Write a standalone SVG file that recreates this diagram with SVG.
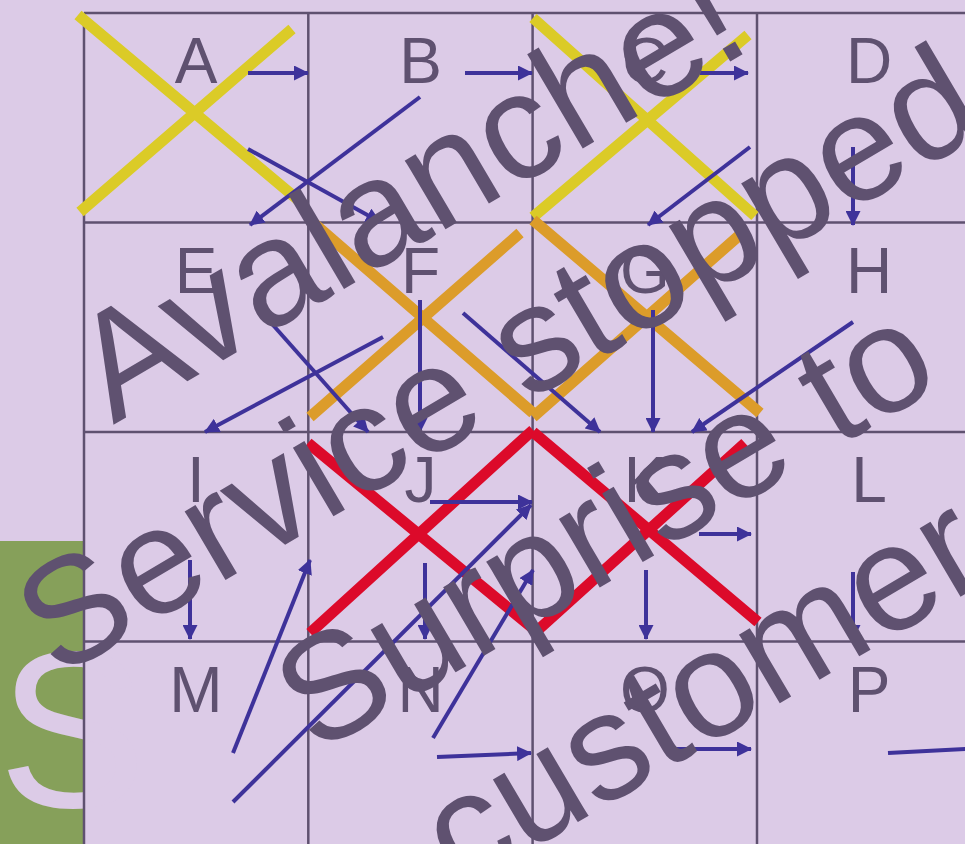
<svg xmlns="http://www.w3.org/2000/svg" width="965" height="844" viewBox="0 0 965 844">
<style>
.grid{stroke:#5f5170;stroke-width:2.5;fill:none}
.lbl{font-family:"Liberation Sans",Arial,sans-serif;font-size:64px;fill:#5f5170;text-anchor:middle}
.big{font-family:"Liberation Sans",Arial,sans-serif;font-size:151px;fill:#5f5170;text-anchor:middle}
.y{stroke:#dbcb27;stroke-width:11;fill:none}
.o{stroke:#dc9c2a;stroke-width:11;fill:none}
.r{stroke:#dc0a2a;stroke-width:11;fill:none}
.ar{stroke:#3e329a;stroke-width:4;fill:none}
.arh{stroke:#3e329a;stroke-width:4;fill:none;marker-end:url(#ah)}
</style>
<defs>
<marker id="ah" markerUnits="userSpaceOnUse" markerWidth="15" markerHeight="15" refX="14" refY="7.5" orient="auto" viewBox="0 0 15 15">
<path d="M0,0 L15,7.5 L0,15 z" fill="#3e329a"/>
</marker>
</defs>
<rect width="965" height="844" fill="#dccbe7"/>
<rect x="0" y="541" width="84" height="303" fill="#86a05a"/>
<text x="-2" y="807" font-family="Liberation Sans, Arial, sans-serif" font-size="223" fill="#dccbe7">S</text>
<g id="grid" class="grid">
<line x1="84" y1="13" x2="84" y2="844"/>
<line x1="308.3" y1="13" x2="308.3" y2="844"/>
<line x1="532.6" y1="13" x2="532.6" y2="844"/>
<line x1="757" y1="13" x2="757" y2="844"/>
<line x1="84" y1="13" x2="965" y2="13"/>
<line x1="84" y1="222.5" x2="965" y2="222.5"/>
<line x1="84" y1="432" x2="965" y2="432"/>
<line x1="84" y1="641.5" x2="965" y2="641.5"/>
</g>
<g id="nodeA"><text class="lbl" x="196" y="83">A</text></g>
<g id="nodeB"><text class="lbl" x="420.5" y="83">B</text></g>
<g id="nodeC"><text class="lbl" x="645" y="83">C</text></g>
<g id="nodeD"><text class="lbl" x="869" y="83">D</text></g>
<g id="nodeE"><text class="lbl" x="196" y="292.5">E</text></g>
<g id="nodeF"><text class="lbl" x="420.5" y="292.5">F</text></g>
<g id="nodeG"><text class="lbl" x="645" y="292.5">G</text></g>
<g id="nodeH"><text class="lbl" x="869" y="292.5">H</text></g>
<g id="nodeI"><text class="lbl" x="196" y="502">I</text></g>
<g id="nodeJ"><text class="lbl" x="420.5" y="502">J</text></g>
<g id="nodeK"><text class="lbl" x="645" y="502">K</text></g>
<g id="nodeL"><text class="lbl" x="869" y="502">L</text></g>
<g id="nodeM"><text class="lbl" x="196" y="711.5">M</text></g>
<g id="nodeN"><text class="lbl" x="420.5" y="711.5">N</text></g>
<g id="nodeO"><text class="lbl" x="645" y="711.5">O</text></g>
<g id="nodeP"><text class="lbl" x="869" y="711.5">P</text></g>
<g id="marks">
<path class="y" d="M78,15 L303,204 M292,29 L80,212"/>
<path class="y" d="M533,18 L755,216 M748,35 L533,217"/>
<path class="o" d="M310,220 L533,413 M520,233 L310,417"/>
<path class="o" d="M533,220 L760,413 M742,233 L533,417"/>
<path class="r" d="M308,443 L535,630 M533,430 L310,633"/>
<path class="r" d="M533,432 L758,622 M745,443 L538,630"/>
</g>
<g id="connectors">
<line class="arh" x1="248" y1="73" x2="308" y2="73"/>
<line class="arh" x1="465" y1="73" x2="532" y2="73"/>
<line class="arh" x1="700" y1="73" x2="748" y2="73"/>
<line class="arh" x1="420" y1="97" x2="250" y2="225"/>
<line class="arh" x1="248" y1="149" x2="380" y2="222"/>
<line class="arh" x1="750" y1="147" x2="648" y2="225"/>
<line class="arh" x1="853" y1="147" x2="853" y2="225"/>
<line class="arh" x1="257" y1="307" x2="368" y2="432"/>
<line class="arh" x1="383" y1="337" x2="205" y2="432"/>
<line class="arh" x1="420" y1="300" x2="420" y2="432"/>
<line class="arh" x1="463" y1="313" x2="600" y2="432"/>
<line class="arh" x1="653" y1="310" x2="653" y2="432"/>
<line class="arh" x1="853" y1="322" x2="692" y2="432"/>
<line class="arh" x1="190" y1="560" x2="190" y2="639"/>
<line class="arh" x1="430" y1="502" x2="532" y2="502"/>
<line class="arh" x1="233" y1="753" x2="310" y2="560"/>
<line class="arh" x1="233" y1="802" x2="531" y2="505"/>
<line class="arh" x1="425" y1="563" x2="425" y2="639"/>
<line class="arh" x1="433" y1="738" x2="533" y2="570"/>
<line class="arh" x1="699" y1="534" x2="751" y2="534"/>
<line class="arh" x1="646" y1="570" x2="646" y2="639"/>
<line class="arh" x1="853" y1="572" x2="853" y2="639"/>
<line class="arh" x1="437" y1="757" x2="531" y2="753"/>
<line class="arh" x1="665" y1="749" x2="751" y2="749"/>
<line class="ar" x1="888" y1="753" x2="985" y2="748"/>
</g>
<g id="overlay" transform="translate(434,236) rotate(-30.5)">
<text class="big" x="0" y="0">Avalanche!</text>
<text class="big" x="-8" y="190.5">Service stopped</text>
<text class="big" x="0" y="387">Surprise to</text>
<text class="big" x="0" y="578">customer</text>
</g>
</svg>
